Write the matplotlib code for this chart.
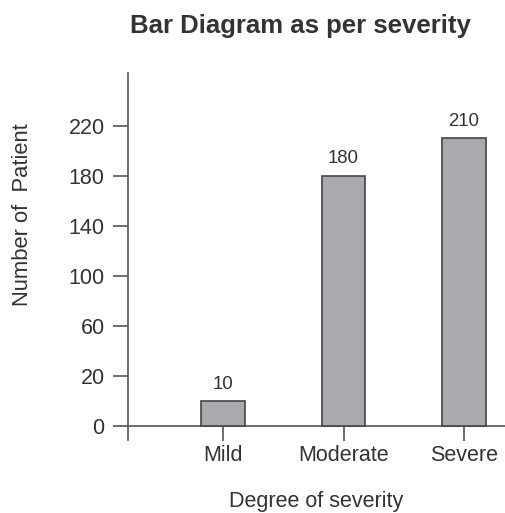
import numpy as np
import matplotlib
matplotlib.use("Agg")
import matplotlib.pyplot as plt

categories = ["Mild", "Moderate", "Severe"]
patients = [10, 180, 210]
y_ticks = [0, 20, 60, 100, 140, 180, 220]

TEXT = "#333333"
LINE = "#555555"

plt.rcParams["font.family"] = ["Liberation Sans", "DejaVu Sans"]


# uneven axis: 0-20 takes one step, then every 40 takes one step
def forward(y):
    y = np.asarray(y, dtype=float)
    return np.where(y <= 20, y / 20.0, 1 + (y - 20) / 40.0)


def inverse(p):
    p = np.asarray(p, dtype=float)
    return np.where(p <= 1, p * 20.0, 20 + (p - 1) * 40.0)


fig = plt.figure(figsize=(5.05, 5.13), dpi=100)
ax = fig.add_axes([0.2535, 0.1423, 0.7465, 0.7154])
ax.set_yscale("function", functions=(forward, inverse))

x = np.arange(len(categories))
bars = ax.bar(x, patients, width=0.365, color="#a9aaae", edgecolor="#444444", linewidth=1.2, zorder=3)
for rect, v in zip(bars, patients):
    ax.annotate(str(v), (rect.get_x() + rect.get_width() / 2, v), xytext=(0, 6),
                textcoords="offset points", ha="center", va="bottom",
                fontsize=13.4, color=TEXT)

ax.set_xlim(-0.788, 2.34)
ax.set_ylim(-5.6, 262)
ax.set_xticks(x)
ax.set_xticklabels(categories)
ax.set_yticks(y_ticks)
ax.set_yticklabels([str(t) for t in y_ticks])

for s in ["top", "right"]:
    ax.spines[s].set_visible(False)
ax.spines["bottom"].set_position(("data", 0))
for s in ["left", "bottom"]:
    ax.spines[s].set_color(LINE)
    ax.spines[s].set_linewidth(1.2)

ax.xaxis.set_ticks_position("bottom")
ax.yaxis.set_ticks_position("left")
ax.tick_params(axis="both", which="major", direction="out", length=10.8, width=1.2,
               color=LINE, labelsize=15.5, labelcolor=TEXT)
ax.tick_params(axis="y", pad=6)
ax.tick_params(axis="x", pad=3, bottom=True)
for t in ax.xaxis.get_major_ticks():
    t.tick1line.set_visible(True)
    t.tick1line.set_zorder(4)

ax.set_xlabel("Degree of severity", fontsize=15.5, color=TEXT)
ax.xaxis.set_label_coords(0.5, -0.138)
ax.set_ylabel("Number of  Patient", fontsize=15.8, color=TEXT)
ax.yaxis.set_label_coords(-0.252, 0.614)

fig.text(0.594, 0.936, "Bar Diagram as per severity", ha="center", va="baseline",
         fontsize=18.5, fontweight="bold", color=TEXT)

fig.savefig("out.png", dpi=100)
